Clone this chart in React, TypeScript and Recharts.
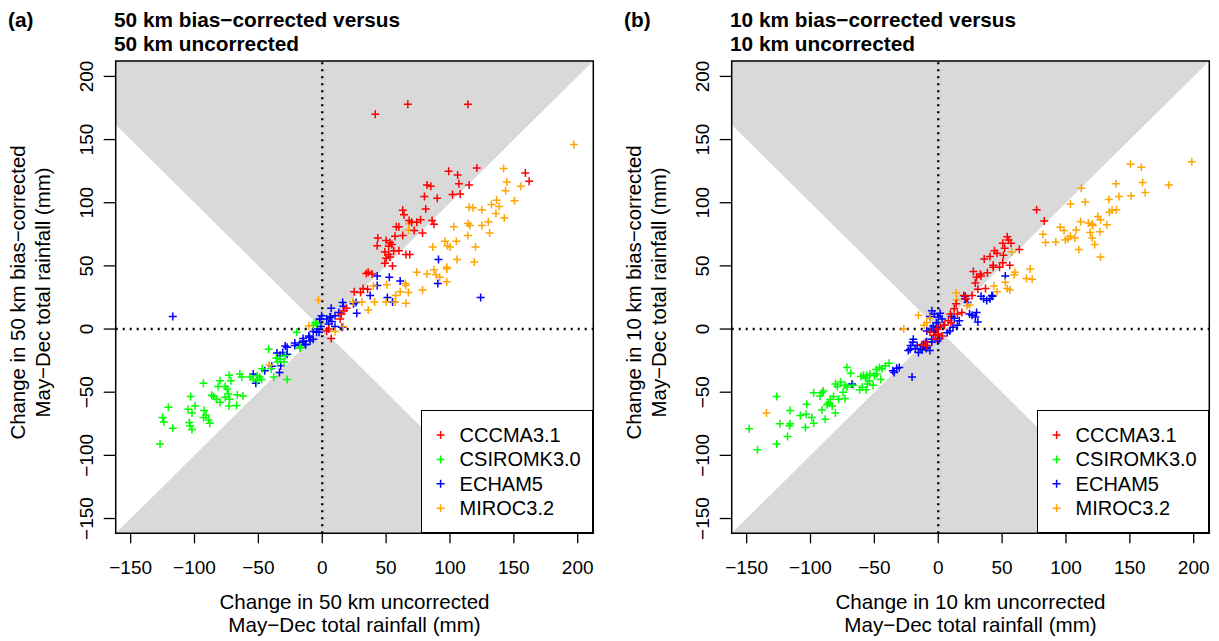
import { Area, ComposedChart, Legend, ReferenceArea, ReferenceLine, Scatter, XAxis, YAxis } from "recharts";

type Pt = [number, number];

// axis range as drawn (R pads the data range by 4%)
const LIM_MIN = -161.7;
const LIM_MAX = 212.2;
const TICKS = [-150, -100, -50, 0, 50, 100, 150, 200];

const MODELS = ["CCCMA3.1", "CSIROMK3.0", "ECHAM5", "MIROC3.2"];
const MODEL_COLORS = ["#ff0000", "#00ff00", "#0000ff", "#ffa500"];

// (a) 50 km
const A_CCCMA: Pt[] = [
  [41.5, 170], [67, 178], [114, 178], [99, 125], [121, 127.5], [106, 122], [107, 115], [115, 114],
  [159, 123.5], [162, 117], [82, 114], [85, 113], [102, 106.5], [108, 107], [80, 105], [90, 103.5],
  [81, 95], [63, 94], [64, 90.5], [58, 81], [60, 81], [68, 86], [70, 84.5], [74, 84.5], [77, 86.5],
  [86, 86], [87.5, 83], [63, 74], [57, 73.5], [72, 78], [78.5, 76], [43.5, 72], [43, 66], [50, 70],
  [53, 68.5], [54.5, 67], [52, 65.5], [49, 61], [52, 59], [56, 62], [60, 62], [53, 57], [49, 52],
  [55, 50], [65.5, 59], [68.5, 59], [50, 56], [34.5, 44], [39, 43.5], [36, 45], [25, 29.5], [30, 29],
  [32, 32], [35.5, 31.5], [19, 16.5], [17, 14.5], [14, 8], [5, 0], [7, -7.5], [3.5, -1.5], [15, 12],
];
const A_CSIRO: Pt[] = [
  [-20, -2.5], [-5.5, 5], [-17, -14.5], [-42, -16], [-36, -23], [-33, -24], [-30, -26], [-35, -26],
  [-29, -21], [-17.5, -15], [-47, -31.5], [-40, -31.5], [-38, -38], [-27.5, -40], [-56.5, -38],
  [-54, -39.5], [-51, -37], [-49, -38], [-51, -41], [-47.5, -40], [-64.5, -35.5], [-63, -38],
  [-73, -36.5], [-71.5, -41], [-80, -41], [-81.5, -45.5], [-93, -43], [-76, -45.5], [-74.5, -47.5],
  [-62, -53], [-66.5, -52], [-73.5, -51.5], [-76, -54], [-72.5, -55.5], [-83, -55.5], [-80, -58],
  [-86.5, -52.5], [-85, -53.5], [-103, -53.5], [-67, -60.5], [-73, -61], [-99.5, -61], [-92.5, -64.5],
  [-91, -68], [-93, -70], [-105, -63.5], [-102, -66.5], [-120.5, -62], [-125, -70], [-124, -73.5],
  [-104, -74], [-103.5, -76.5], [-88, -74.5], [-89, -72], [-117, -78.5], [-102, -79.5], [-127, -91],
  [-4.5, 4], [-7, 3],
];
const A_ECHAM: Pt[] = [
  [91, 55], [124, 25], [-117, 10], [43, 42], [52.5, 41], [61, 38], [43, 34.5], [90.5, 36], [37.5, 26.5],
  [51, 25], [55, 21.5], [26.5, 21], [24.5, 20], [16, 21], [16.5, 18], [7, 16.5], [13, 13], [27, 12.5],
  [-2, 7.5], [6.5, 9.5], [7.5, 6], [5, 4], [10, 2], [15.5, 1.5], [-1, 2], [-4, 0], [-7, -2], [-2.5, -2.5],
  [-10, -6.5], [-15, -9.5], [-13.5, -12], [-21.5, -13], [-27.5, -14.5], [-54, -35.5], [-52, -43],
  [-45, -33], [-39.5, -29.5], [-33.5, -34.5], [-32.5, -29], [-35.5, -19], [-33, -21], [-31, -18.5],
  [-27.5, -20], [-29, -13.5], [-21.5, -11], [-18, -12.5], [-15, -10.5], [-13, -12.5], [-9.5, -9.5],
  [-7, -8], [-15, -7.5], [-10.5, -5.5], [-4.5, -2.5], [3.5, 8], [6, 9.5], [-2, 8], [-0.5, 10.5], [10, 10.5],
];
const A_MIROC: Pt[] = [
  [197, 146], [142, 127], [144.5, 116.5], [143.5, 109.5], [155.5, 113], [150.5, 101.5], [136.5, 102],
  [138.5, 97], [132.5, 98.5], [115, 96.5], [118, 96], [125, 94.5], [136, 91.5], [142.5, 88], [114, 83.5],
  [115.5, 82], [125, 82], [130, 85], [103, 81], [114, 74], [131, 76], [68, 83.5], [67.5, 78.5], [96, 69.5],
  [98, 66], [100, 65], [105, 69.5], [120, 65], [86.5, 65], [105.5, 55], [119, 53], [97.5, 49], [74, 45],
  [82, 43.5], [87.5, 47], [89, 43], [92, 41], [97.5, 37.5], [97.5, 47.5], [65, 36], [65.5, 34.5],
  [67.5, 29], [61, 29.5], [57.5, 26.5], [50.5, 35], [40, 34], [41, 21.5], [36, 15], [50, 21.5],
  [57, 21.5], [65.5, 20.5], [78.5, 31], [24, 21.5], [31, 21.5], [-3, 23], [16.5, 2], [10, -2],
  [-10.5, 2.5], [-41.5, -28.5],
];

// (b) 10 km
const B_CCCMA: Pt[] = [
  [77, 94.5], [83, 85.5], [50.5, 68], [55, 70.5], [52, 64], [63.5, 63], [51, 58.5], [36, 55.5],
  [40.5, 57.5], [43, 50.5], [50.5, 52.5], [56, 50.5], [48, 49], [27.5, 45.5], [33, 43.5], [38.5, 44.5],
  [30, 41], [33.5, 42], [29, 36.5], [37, 32], [31, 31.5], [20, 26.5], [26.5, 26.5], [54, 73], [57, 68],
  [46, 60], [44, 62], [14, 20], [12.5, 16], [18.5, 13], [9.5, 12], [15, 12], [8, 6.5], [10, 5], [1.5, 2.5],
  [-1, 0], [-6.5, -2.5], [-3.5, -5], [3, -5.5], [-10, -10.5], [-13, -12.5], [-9, -13], [0, -4], [22, 24],
  [5, 3], [-2, -8], [43, 49],
];
const B_CSIRO: Pt[] = [
  [-38.5, -27], [-41.5, -29], [-44, -31.5], [-46, -30.5], [-48.5, -32], [-48, -35.5], [-45, -40],
  [-50, -37], [-53.5, -35.5], [-56, -37], [-58.5, -36.5], [-60.5, -37.5], [-57, -39], [-54, -41],
  [-55.5, -43.5], [-51, -44.5], [-59.5, -46], [-61.5, -48], [-56.5, -48], [-71.5, -30.5], [-68.5, -35],
  [-73, -44.5], [-71.5, -46], [-74.5, -50], [-73, -55], [-76.5, -42], [-80.5, -43.5], [-79, -45.5],
  [-82, -53.5], [-78, -55.5], [-84.5, -55.5], [-86, -58.5], [-87, -60], [-83, -61], [-80.5, -66.5],
  [-90, -49], [-91, -50.5], [-92.5, -53], [-97.5, -50.5], [-91, -64], [-88.5, -71.5], [-99, -70],
  [-97.5, -74.5], [-103.5, -67.5], [-104, -78], [-108, -68.5], [-116, -64.5], [-116, -75], [-116.5, -76.5],
  [-124, -75], [-126.5, -53.5], [-118, -85], [-126.5, -91], [-141.5, -95.5], [-148, -79], [-66.5, -44.5],
  [-103, -59.5],
];
const B_ECHAM: Pt[] = [
  [52.5, 42], [21, 26], [33.5, 26], [42, 26.5], [21, 24], [23, 21], [35.5, 24], [38, 22.5], [42.5, 26],
  [40.5, 24], [30, 13], [29, 9.5], [26.5, 11], [31, 5.5], [24.5, 12], [16.5, 6.5], [15, 3], [11.5, 1.5],
  [9, -1.5], [7, -3], [4.5, 3], [10.5, 10], [12.5, 8.5], [-5, 14.5], [-6.5, 10], [-3, 12], [1.5, 12.5],
  [0, 9.5], [3, 8], [-1.5, 5], [-4, 2.5], [0, 1.5], [-3.5, -1.5], [-5.5, 0.5], [-9, -1.5], [-2.5, -2.5],
  [1, -7.5], [-0.5, -9.5], [-5, -8], [-19.5, -8], [-21.5, -13], [-23.5, -17], [-16.5, -13], [-14, -16],
  [-11.5, -12], [-9, -14.5], [-15.5, -18.5], [-18, -15.5], [-6.5, -17], [-22, -16], [-12.5, -16.5],
  [-9.5, -15.5], [-20, -10.5], [-9, -10], [-5, -10.5], [-32.5, -31], [-34.5, -34.5], [-30.5, -30.5],
  [-35.5, -33], [-67.5, -43.5], [-20.5, -38],
];
const B_MIROC: Pt[] = [
  [198.5, 132.5], [150.5, 130.5], [159, 128], [139, 115], [160, 116], [180.5, 114], [112, 111.5],
  [115, 100.5], [103.5, 99], [133.5, 102.5], [141.5, 105], [151, 105.5], [162, 108], [134, 92.5],
  [136, 94], [139.5, 94.5], [125, 89], [127, 86.5], [111.5, 85], [117.5, 84], [121, 82], [120.5, 83],
  [132, 82.5], [95.5, 80.5], [98.5, 78], [108, 78.5], [103.5, 73.5], [101.5, 71.5], [107, 72],
  [99.5, 70.5], [92, 69], [84, 68.5], [82, 75], [119, 76.5], [126.5, 77], [120.5, 72], [122.5, 67],
  [110, 63], [127, 57], [57.5, 61], [60, 45], [59.5, 43], [72, 47.5], [69, 40], [73.5, 39.5], [43.5, 34],
  [46, 29.5], [52.5, 37], [54, 32], [56, 31], [14, 28.5], [14.5, 23], [22.5, 18.5], [24.5, 19],
  [-15.5, 11], [-11, 3], [-9, 5], [-27, 0], [-6.5, 8.5], [-134.5, -66.5],
];

// shaded wedges where |y| > |x|
const UPPER_WEDGE: Pt[] = [[LIM_MIN, -LIM_MIN], [0, 0], [LIM_MAX, LIM_MAX]];
const LOWER_WEDGE: Pt[] = [[LIM_MIN, LIM_MIN], [0, 0], [-LIM_MIN, LIM_MIN]];

const FONT = '"Liberation Sans", Arial, Helvetica, sans-serif';
const GREY = "#d9d9d9";
const W = 603;
const H = 641;

const toXY = (pts: Pt[]) => pts.map(([x, y]) => ({ x, y }));
const fmt = (v: number) => (v < 0 ? `\u2212${Math.abs(v)}` : `${v}`);

function Plus({ cx, cy, color }: { cx?: number; cy?: number; color: string }) {
  if (cx == null || cy == null) return null;
  return (
    <path
      d={`M${cx - 4},${cy}H${cx + 4}M${cx},${cy - 4}V${cy + 4}`}
      stroke={color}
      strokeWidth={1.5}
      fill="none"
    />
  );
}

function XTick(props: any) {
  const { x, payload } = props;
  return (
    <text x={x} y={574} textAnchor="middle" fontSize={19} fontFamily={FONT} fill="#000">
      {fmt(payload.value)}
    </text>
  );
}

function YTick(props: any) {
  const { y, payload } = props;
  return (
    <text
      x={93}
      y={y}
      transform={`rotate(-90 93 ${y})`}
      textAnchor="middle"
      fontSize={19}
      fontFamily={FONT}
      fill="#000"
    >
      {fmt(payload.value)}
    </text>
  );
}

function LegendBox() {
  return (
    <svg width={172} height={123} style={{ display: "block" }}>
      {MODELS.map((m, i) => (
        <g key={m}>
          <Plus cx={18.6} cy={24 + i * 24.4} color={MODEL_COLORS[i]} />
          <text x={37.6} y={31 + i * 24.4} fontSize={20} fontFamily={FONT} fill="#000">
            {m}
          </text>
        </g>
      ))}
    </svg>
  );
}

type PanelProps = {
  left: number;
  tag: string;
  km: string;
  series: Pt[][];
};

function Panel({ left, tag, km, series }: PanelProps) {
  // draw order: ECHAM, CSIRO, MIROC, CCCMA
  const order = [2, 1, 3, 0];
  return (
    <div style={{ position: "absolute", left, top: 0, width: W, height: H }}>
      <svg width={W} height={H} style={{ position: "absolute", left: 0, top: 0 }} fontFamily={FONT}>
        <text x={8} y={27} fontSize={20.8} fontWeight="bold">{tag}</text>
        <text x={114} y={27} fontSize={20.8} fontWeight="bold">{`${km} km bias\u2212corrected versus`}</text>
        <text x={114} y={51} fontSize={20.8} fontWeight="bold">{`${km} km uncorrected`}</text>
        <text x={25} y={292.5} transform="rotate(-90 25 292.5)" textAnchor="middle" fontSize={20.4}>
          {`Change in ${km} km bias\u2212corrected`}
        </text>
        <text x={50} y={292.5} transform="rotate(-90 50 292.5)" textAnchor="middle" fontSize={20.4}>
          {"May\u2212Dec total rainfall (mm)"}
        </text>
        <text x={354.5} y={609} textAnchor="middle" fontSize={20.6}>{`Change in ${km} km uncorrected`}</text>
        <text x={354.5} y={632} textAnchor="middle" fontSize={20.6}>{"May\u2212Dec total rainfall (mm)"}</text>
      </svg>
      <div style={{ position: "absolute", left: 0, top: 0 }}>
        <ComposedChart width={W} height={H} margin={{ top: 61, right: 9.7, bottom: 7.7, left: 15.7 }}>
          <XAxis
            type="number"
            dataKey="x"
            domain={[LIM_MIN, LIM_MAX]}
            allowDataOverflow
            ticks={TICKS}
            interval={0}
            height={100}
            tickSize={10}
            axisLine={false}
            tickLine={{ stroke: "#000", strokeWidth: 1.3 }}
            tick={<XTick />}
          />
          <YAxis
            type="number"
            dataKey="y"
            domain={[LIM_MIN, LIM_MAX]}
            allowDataOverflow
            ticks={TICKS}
            interval={0}
            width={100}
            tickSize={12}
            axisLine={false}
            tickLine={{ stroke: "#000", strokeWidth: 1.3 }}
            tick={<YTick />}
          />
          <Area
            data={toXY(UPPER_WEDGE)}
            dataKey="y"
            type="linear"
            baseValue={LIM_MAX}
            stroke="none"
            fill={GREY}
            fillOpacity={1}
            legendType="none"
            isAnimationActive={false}
          />
          <Area
            data={toXY(LOWER_WEDGE)}
            dataKey="y"
            type="linear"
            baseValue={LIM_MIN}
            stroke="none"
            fill={GREY}
            fillOpacity={1}
            legendType="none"
            isAnimationActive={false}
          />
          <ReferenceLine x={0} stroke="#000" strokeWidth={2.4} strokeDasharray="2 5" />
          <ReferenceLine y={0} stroke="#000" strokeWidth={2.4} strokeDasharray="2 5" />
          {order.map((i) => (
            <Scatter
              key={MODELS[i]}
              name={MODELS[i]}
              data={toXY(series[i])}
              fill={MODEL_COLORS[i]}
              shape={(p: any) => <Plus cx={p.cx} cy={p.cy} color={MODEL_COLORS[i]} />}
              isAnimationActive={false}
            />
          ))}
          <ReferenceArea
            x1={LIM_MIN}
            x2={LIM_MAX}
            y1={LIM_MIN}
            y2={LIM_MAX}
            fill="none"
            fillOpacity={0}
            stroke="#000"
            strokeWidth={1.5}
          />
          <Legend
            layout="vertical"
            align="center"
            verticalAlign="middle"
            wrapperStyle={{
              left: 420.7,
              top: 410,
              width: 172,
              height: 123.3,
              border: "1.5px solid #000",
              background: "#fff",
              boxSizing: "border-box",
            }}
            content={() => <LegendBox />}
          />
        </ComposedChart>
      </div>
    </div>
  );
}

export default function App() {
  return (
    <div
      style={{
        position: "absolute",
        left: 0,
        top: 0,
        width: 1219,
        height: 641,
        background: "#fff",
        fontFamily: FONT,
      }}
    >
      <Panel left={0} tag="(a)" km="50" series={[A_CCCMA, A_CSIRO, A_ECHAM, A_MIROC]} />
      <Panel left={616} tag="(b)" km="10" series={[B_CCCMA, B_CSIRO, B_ECHAM, B_MIROC]} />
    </div>
  );
}
